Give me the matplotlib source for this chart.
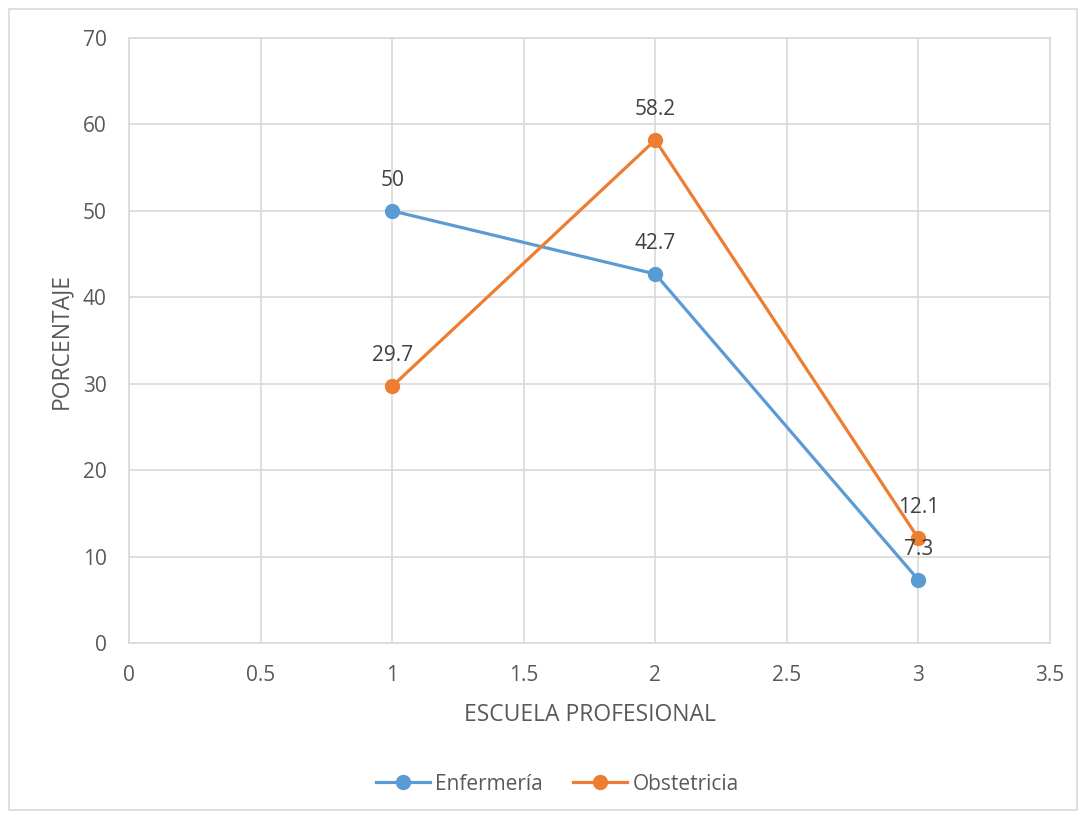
import matplotlib.pyplot as plt
from matplotlib.patches import Rectangle

plt.rcParams['font.family'] = ['Open Sans', 'DejaVu Sans']

escuela = [1, 2, 3]
enfermeria = [50, 42.7, 7.3]
obstetricia = [29.7, 58.2, 12.1]

blue = '#5B9BD5'
orange = '#ED7D31'
grey_text = '#595959'
grid_col = '#D9D9D9'

fig = plt.figure(figsize=(10.84, 8.16), dpi=100)
ax = fig.add_axes([0.119, 0.212, 0.8496, 0.7414])

# outer chart border
fig.patches.append(Rectangle((9 / 1084, 6 / 816), 1068 / 1084, 801 / 816, transform=fig.transFigure,
                             fill=False, edgecolor=grid_col, linewidth=1.2))

ax.plot(escuela, enfermeria, color=blue, linewidth=2.3, marker='o', markersize=10, label='Enfermería', zorder=3)
ax.plot(escuela, obstetricia, color=orange, linewidth=2.3, marker='o', markersize=10, label='Obstetricia', zorder=3)

for x, y in zip(escuela, enfermeria):
    ax.annotate(f'{y:g}', (x, y), xytext=(0, 22), textcoords='offset points',
                ha='center', va='center', fontsize=15, color='#404040', zorder=4)
for x, y in zip(escuela, obstetricia):
    ax.annotate(f'{y:g}', (x, y), xytext=(0, 22), textcoords='offset points',
                ha='center', va='center', fontsize=15, color='#404040', zorder=4)

ax.set_xlim(0, 3.5)
ax.set_ylim(0, 70)
ax.set_xticks([0, 0.5, 1, 1.5, 2, 2.5, 3, 3.5])
ax.set_xticklabels(['0', '0.5', '1', '1.5', '2', '2.5', '3', '3.5'])
ax.set_yticks(range(0, 71, 10))
ax.grid(True, color=grid_col, linewidth=1.2)
ax.set_axisbelow(True)
for s in ax.spines.values():
    s.set_color(grid_col)
    s.set_linewidth(1.2)
ax.tick_params(length=0, labelsize=15, colors=grey_text)
ax.tick_params(axis='y', pad=16)
ax.tick_params(axis='x', pad=16)

ax.set_xlabel('ESCUELA PROFESIONAL', fontsize=16.5, color=grey_text, labelpad=12)
ax.set_ylabel('PORCENTAJE', fontsize=16.5, color=grey_text, labelpad=7)

fig.legend(loc='center', bbox_to_anchor=(0.514, 0.039), ncol=2, frameon=False,
           fontsize=15, labelcolor=grey_text, handlelength=2.6, columnspacing=1.45, handletextpad=0.25)

fig.savefig('out.png', dpi=100)
